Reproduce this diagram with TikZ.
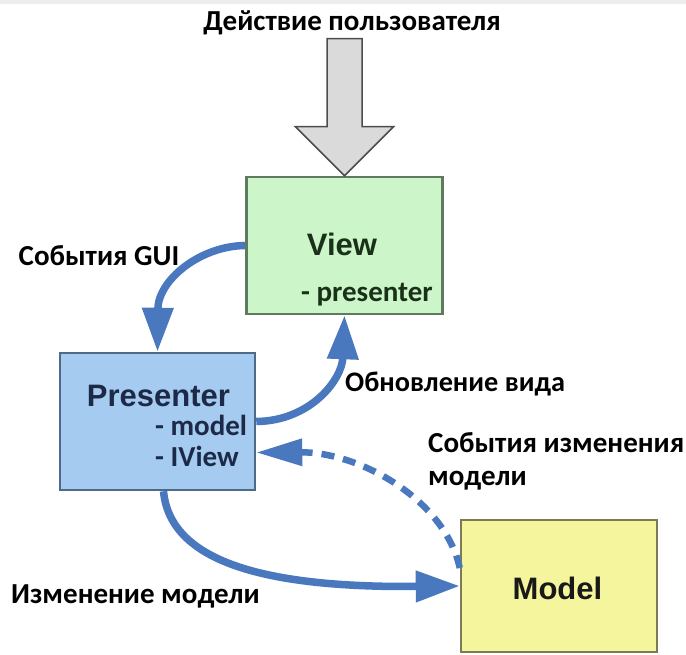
\documentclass[tikz,border=0pt]{standalone}
\usepackage{fontspec}
\setmainfont{Carlito}
\newfontfamily\namefont{Liberation Sans}
\usetikzlibrary{arrows.meta}
\definecolor{arrowblue}{HTML}{4A78BE}
\definecolor{viewfill}{HTML}{CCF5CA}
\definecolor{viewdraw}{HTML}{5F7A5F}
\definecolor{presfill}{HTML}{A6CBF0}
\definecolor{presdraw}{HTML}{4F6A88}
\definecolor{modfill}{HTML}{F5F59E}
\definecolor{moddraw}{HTML}{7D7B55}
\definecolor{navytext}{HTML}{1C2A48}
\definecolor{greentext}{HTML}{1A3018}
\definecolor{userarrow}{HTML}{DADADA}
\begin{document}
\begin{tikzpicture}[x=1pt,y=-1pt,
  box/.style={draw, line width=2.5pt, minimum width=196pt, minimum height=137pt, inner sep=0pt},
  lbl/.style={font=\fontsize{29}{33}\selectfont\bfseries, inner sep=0pt, anchor=mid},
  lblw/.style={lbl, anchor=mid west},
  inbox/.style={font=\fontsize{29}{33}\selectfont\bfseries, inner sep=0pt, anchor=mid},
  boxname/.style={font=\namefont\bfseries\fontsize{31}{35}\selectfont, inner sep=0pt, anchor=base},
  flow/.style={draw=arrowblue, line width=7.5pt, -{Triangle[length=44pt,width=30pt]}},
  dflow/.style={draw=arrowblue, line width=6.5pt, dash pattern=on 13pt off 9pt, -{Triangle[length=46pt,width=26pt]}}
]
\useasboundingbox (0,0) rectangle (686,655);
\fill[white] (0,0) rectangle (686,655);
\fill[black!7] (0,0) rectangle (686,4);

% boxes
\node[box, fill=viewfill, draw=viewdraw] (V) at (344.5,245.5) {};
\node[box, fill=presfill, draw=presdraw, minimum width=195pt] (P) at (157.5,421.5) {};
\node[box, fill=modfill, draw=moddraw, minimum height=132pt] (M) at (559,586) {};

% user action arrow
\coordinate (tip) at (V.north);
\draw[fill=userarrow, draw=black!70, line width=1.5pt, line join=miter]
  (tip) -- ++(-49,-49) -- ++(31.5,0) -- ++(0,-88) -- ++(35,0) -- ++(0,88) -- ++(31.5,0) -- cycle;

% texts
\node[lbl] (title) at (352,28) {Действие пользователя};
\node[boxname, text=greentext] (vname) at (342,256) {View};
\node[inbox, text=greentext, anchor=mid east] (vattr) at (433,299) {- presenter};
\node[boxname, text=navytext] (pname) at (158.5,406) {Presenter};
\node[inbox, text=navytext, anchor=mid west] (pattr1) at (155,433) {- model};
\node[inbox, text=navytext, anchor=mid west] (pattr2) at (155,464) {- IView};
\node[boxname, text=black!90] (mname) at (557.5,599) {Model};

\node[lbl] (l1) at (99,263) {События GUI};
\node[lblw, font=\fontsize{28.3}{33}\selectfont\bfseries] (l2) at (345,389) {Обновление вида};
\node[lblw] (l3) at (428,450) {События изменения};
\node[lblw] (l4) at (428,483) {модели};
\node[lblw] (l5) at (11,601) {Изменение модели};

% connectors
\draw[flow] (V.west) .. controls (200,246) and (158,280) .. (P.north);
\draw[flow] (P.east) .. controls (310,421) and (342,380) .. (V.south);
\draw[flow] ([xshift=6pt]P.south) .. controls (170,560) and (260,588) .. (M.west);
\draw[dflow] ([yshift=18pt]M.west) .. controls (445,500) and (360,452) .. ([yshift=-31pt]P.east);
\end{tikzpicture}
\end{document}
